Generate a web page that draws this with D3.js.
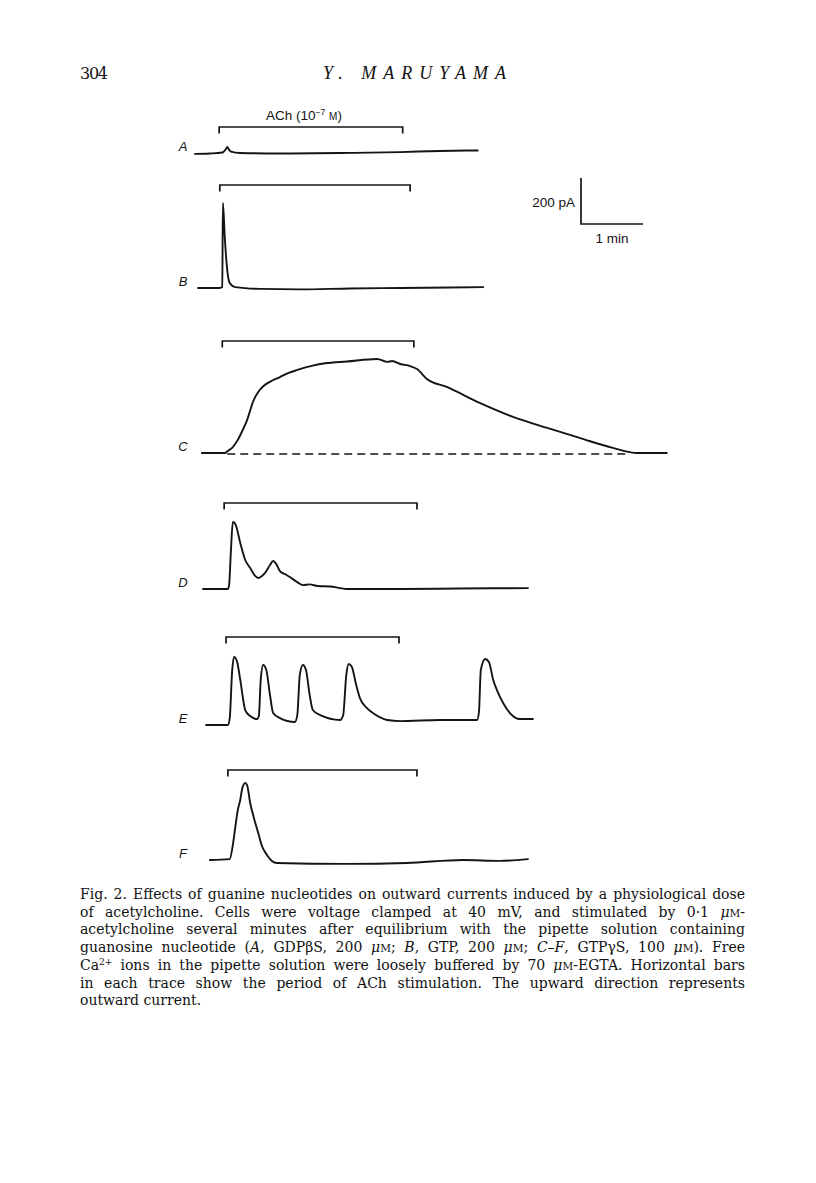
<!DOCTYPE html>
<html>
<head>
<meta charset="utf-8">
<script src="https://cdn.jsdelivr.net/npm/d3@7"></script>
<style>
  body { margin: 0; background: #fff; }
  .trace { fill: none; stroke: #141414; stroke-width: 1.9; stroke-linejoin: round; stroke-linecap: round; }
  .bracket { fill: none; stroke: #141414; stroke-width: 1.7; }
  .lbl { font-family: "Liberation Sans", Arial, sans-serif; font-style: italic; font-size: 13px; fill: #141414; }
  .sans { font-family: "Liberation Sans", Arial, sans-serif; font-size: 13.5px; fill: #141414; }
  .cap { font-family: "DejaVu Serif", serif; font-size: 14px; fill: #111; }
</style>
</head>
<body>
<div id="chart"></div>
<script>
// trace names
var traceNames = ["A", "B", "C", "D", "E", "F"];

// recordings: [time (min), current (pA)]
var traceA = [[0, -4], [0.24, -2], [0.44, 2], [0.5, 18], [0.52, 26], [0.55, 14], [0.58, 6], [0.73, 0], [1.37, -2], [2.34, 0], [3.31, 4], [3.95, 9], [4.56, 11]];
var traceB = [[0.05, 0], [0.4, 0], [0.44, 4], [0.45, 370], [0.48, 222], [0.52, 78], [0.56, 22], [0.65, 4], [1.05, -4], [1.69, -6], [2.5, -2], [3.31, 0], [4.65, 4]];
var traceC = [[0.11, 0], [0.48, 0], [0.53, 9], [0.61, 26], [0.69, 57], [0.77, 100], [0.84, 143], [0.94, 226], [1.02, 265], [1.1, 290], [1.2, 308], [1.37, 330], [1.5, 347], [1.65, 361], [1.9, 380], [2.1, 390], [2.45, 398], [2.94, 409], [3.1, 396], [3.18, 400], [3.31, 387], [3.47, 378], [3.58, 365], [3.74, 322], [4.06, 287], [4.6, 217], [5.13, 157], [5.68, 109], [6.21, 65], [6.74, 22], [7.13, 0], [7.61, 0]];
var traceD = [[0.13, 0], [0.53, 0], [0.55, 17], [0.58, 170], [0.61, 291], [0.65, 283], [0.73, 200], [0.81, 126], [0.89, 91], [0.97, 57], [1.02, 48], [1.08, 57], [1.13, 70], [1.21, 104], [1.26, 122], [1.31, 109], [1.37, 78], [1.45, 65], [1.53, 52], [1.65, 30], [1.74, 17], [1.85, 20], [1.98, 13], [2.18, 11], [2.34, 4], [2.45, 0], [3.31, 0], [4.27, 2], [5.37, 4]];
var traceE = [[0.18, 0], [0.53, 0], [0.56, 30], [0.6, 239], [0.63, 296], [0.68, 274], [0.73, 196], [0.81, 65], [0.89, 39], [1.0, 26], [1.03, 39], [1.06, 196], [1.1, 261], [1.15, 239], [1.21, 130], [1.26, 52], [1.37, 30], [1.61, 13], [1.65, 43], [1.69, 217], [1.74, 261], [1.79, 239], [1.85, 130], [1.9, 65], [2.02, 43], [2.34, 22], [2.39, 43], [2.44, 217], [2.48, 265], [2.53, 252], [2.6, 174], [2.66, 117], [2.77, 74], [2.87, 52], [3.1, 22], [3.31, 17], [3.95, 22], [4.55, 22], [4.58, 57], [4.61, 239], [4.68, 287], [4.74, 274], [4.81, 196], [4.87, 152], [4.97, 96], [5.08, 52], [5.24, 26], [5.45, 26]];
var traceF = [[0.24, 0], [0.56, 4], [0.61, 65], [0.65, 143], [0.69, 217], [0.73, 261], [0.76, 309], [0.81, 335], [0.84, 326], [0.89, 248], [0.95, 183], [1.02, 117], [1.08, 61], [1.16, 22], [1.24, -4], [1.32, -13], [2.45, -17], [3.42, -13], [4.32, 0], [4.92, -4], [5.37, 4]];
var traces = [traceA, traceB, traceC, traceD, traceE, traceF];

// ACh application period (min) for each trace
var achStart = [0.39, 0.40, 0.44, 0.47, 0.50, 0.53];
var achEnd = [3.35, 3.47, 3.53, 3.58, 3.29, 3.58];

// zero-current reference in C (min)
var cZeroLine = [0.52, 6.97];

// scale bar
var scaleMin = 1, scalePA = 200;

// caption
var captionLines = [
  "Fig. 2. Effects of guanine nucleotides on outward currents induced by a physiological dose",
  "of acetylcholine. Cells were voltage clamped at 40 mV, and stimulated by 0·1 μM-",
  "acetylcholine several minutes after equilibrium with the pipette solution containing",
  "guanosine nucleotide (A, GDPβS, 200 μM; B, GTP, 200 μM; C–F, GTPγS, 100 μM). Free",
  "Ca2+ ions in the pipette solution were loosely buffered by 70 μM-EGTA. Horizontal bars",
  "in each trace show the period of ACh stimulation. The upward direction represents",
  "outward current."
];

// layout
var baselines = [153, 288, 453, 589, 725, 860],
    bracketRise = [26, 103, 112, 86, 88, 90],
    tick = 6.5;

var svg = d3.select("#chart").append("svg")
    .attr("width", 816)
    .attr("height", 1183)
    .style("display", "block");

svg.append("rect").attr("width", 816).attr("height", 1183).attr("fill", "#fff");

var x = d3.scaleLinear()
    .domain([0, 8])
    .range([195, 195 + 8 * 62]);

var yFor = function (i) {
    return d3.scaleLinear()
        .domain([0, 200])
        .range([baselines[i], baselines[i] - 46]);
}

// page header
svg.append("text")
    .attr("x", 80).attr("y", 79)
    .attr("textLength", 28)
    .style("font-family", "DejaVu Serif, serif")
    .style("font-size", "16px")
    .style("fill", "#111")
    .text("304");

svg.append("text")
    .attr("x", 323).attr("y", 79)
    .attr("textLength", 183)
    .attr("lengthAdjust", "spacing")
    .style("font-family", "Liberation Serif, serif")
    .style("font-style", "italic")
    .style("font-size", "18px")
    .style("fill", "#111")
    .text("Y. MARUYAMA");

// ACh label
var ach = svg.append("text")
    .attr("class", "sans")
    .attr("x", 304).attr("y", 120)
    .attr("text-anchor", "middle");
ach.append("tspan").text("ACh (10");
ach.append("tspan").attr("dy", -5).style("font-size", "8.5px").text("−7");
ach.append("tspan").attr("dy", 5).text(" ");
ach.append("tspan").style("font-size", "10px").text("M");
ach.append("tspan").text(")");

traces.forEach(function (data, i) {
    var y = yFor(i);
    var g = svg.append("g").attr("class", "trace-" + traceNames[i]);

    var line = d3.line()
        .x(function (d) { return x(d[0]); })
        .y(function (d) { return y(d[1]); })
        .curve(d3.curveMonotoneX);

    g.append("path")
        .attr("class", "trace")
        .attr("d", line(data));

    var top = baselines[i] - bracketRise[i];
    g.append("path")
        .attr("class", "bracket")
        .attr("d", "M" + x(achStart[i]) + "," + (top + tick) +
                   "V" + top + "H" + x(achEnd[i]) + "V" + (top + tick));

    g.append("text")
        .attr("class", "lbl")
        .attr("x", 183)
        .attr("y", baselines[i] - 2)
        .attr("text-anchor", "middle")
        .text(traceNames[i]);

    if (traceNames[i] == "C") {
        g.append("line")
            .attr("x1", x(cZeroLine[0]))
            .attr("x2", x(cZeroLine[1]))
            .attr("y1", y(0) + 1)
            .attr("y2", y(0) + 1)
            .attr("stroke", "#141414")
            .attr("stroke-width", 1.7)
            .attr("stroke-dasharray", "8,5");
    }
});

// scale bar
var sx0 = 581, sy0 = 224,
    sw = x(scaleMin) - x(0),
    sh = yFor(0)(0) - yFor(0)(scalePA);

svg.append("path")
    .attr("class", "bracket")
    .attr("stroke-width", 1.9)
    .attr("d", "M" + sx0 + "," + (sy0 - sh) + "V" + sy0 + "H" + (sx0 + sw));

svg.append("text")
    .attr("class", "sans")
    .attr("x", sx0 - 6).attr("y", sy0 - 17)
    .attr("text-anchor", "end")
    .text(scalePA + " pA");

svg.append("text")
    .attr("class", "sans")
    .attr("x", sx0 + sw / 2).attr("y", sy0 + 19)
    .attr("text-anchor", "middle")
    .text(scaleMin + " min");

// caption, justified between 80 and 745
var capLeft = 80, capRight = 745, capY = 899, capStep = 17.7;

captionLines.forEach(function (s, i) {
    var t = svg.append("text")
        .attr("class", "cap")
        .attr("x", capLeft)
        .attr("y", capY + i * capStep);

    // split for italics, small caps and superscripts
    var parts = s.split(/(μM|\bA(?=,)|\bB(?=,)|C–F|Ca2\+)/);
    var shift = 0;
    parts.forEach(function (p) {
        if (p == "μM") {
            t.append("tspan").attr("dy", shift).style("font-style", "italic").text("μ");
            t.append("tspan").style("font-size", "10.5px").text("M");
            shift = 0;
        } else if (p == "A" || p == "B" || p == "C–F") {
            t.append("tspan").attr("dy", shift).style("font-style", "italic").text(p);
            shift = 0;
        } else if (p == "Ca2+") {
            t.append("tspan").attr("dy", shift).text("Ca");
            t.append("tspan").attr("dy", -5).style("font-size", "9px").text("2+");
            shift = 5;
        } else if (p.length) {
            t.append("tspan").attr("dy", shift).text(p);
            shift = 0;
        }
    });

    if (i < captionLines.length - 1) {
        var len = t.node().getComputedTextLength();
        var spaces = (s.match(/ /g) || []).length;
        t.style("word-spacing", ((capRight - capLeft - len) / spaces) + "px");
    }
});
</script>
</body>
</html>
